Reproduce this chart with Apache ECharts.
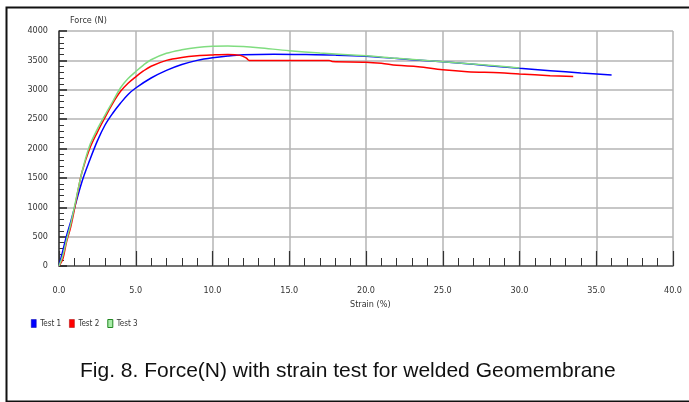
<!DOCTYPE html>
<html>
<head>
<meta charset="utf-8">
<script src="https://cdn.jsdelivr.net/npm/echarts@6/dist/echarts.min.js"></script>
<style>
html,body{margin:0;padding:0;background:#fff;}
#chart{width:689px;height:402px;}
</style>
</head>
<body>
<div id="chart"></div>
<script>
// ---- data ----
var xTickLabels = ['0.0','5.0','10.0','15.0','20.0','25.0','30.0','35.0','40.0'];
var yTickValues = [0,500,1000,1500,2000,2500,3000,3500,4000];

var test1Strain = [0,0.25,0.5,0.75,1.0,1.5,2.0,2.5,3.0,3.5,4.0,4.5,5.0,6.0,7.0,8.0,9.0,10.0,11.0,12.0,14.0,16.0,18.0,20.0,22.0,24.0,26.0,28.0,30.0,32.0,34.0,36.0];
var test1Force  = [0,260,520,740,980,1440,1800,2130,2400,2600,2770,2920,3030,3200,3330,3430,3500,3545,3575,3595,3605,3600,3590,3570,3530,3495,3455,3410,3365,3325,3285,3250];

var test2Strain = [0,0.25,0.5,0.75,1.0,1.25,1.5,2.0,2.5,3.0,3.5,4.0,4.5,5.0,5.5,6.0,7.0,8.0,9.0,10.0,11.0,11.8,12.2,12.4,17.6,17.8,20.0,21.0,22.0,23.4,25.0,26.6,28.7,30.0,32.0,33.5];
var test2Force  = [0,120,420,650,960,1300,1600,2000,2280,2530,2770,2970,3110,3220,3320,3400,3500,3550,3578,3592,3600,3585,3540,3500,3500,3480,3470,3450,3415,3390,3340,3308,3290,3268,3240,3225];

var test3Strain = [0,0.25,0.5,0.75,1.0,1.5,2.0,2.5,3.0,3.5,4.0,4.5,5.0,5.5,6.0,7.0,8.0,9.0,10.0,11.0,12.0,13.0,15.0,17.0,20.0,22.0,25.0,28.0,30.0];
var test3Force  = [0,180,450,700,1000,1600,2050,2330,2570,2800,3030,3190,3310,3420,3510,3620,3680,3720,3740,3745,3735,3715,3665,3625,3578,3535,3478,3415,3372];

function pairs(xs, ys){ return xs.map(function(x,i){ return [x, ys[i]]; }); }

var smallFont = "'Liberation Sans Narrow','DejaVu Sans Condensed','Arial Narrow',sans-serif";

var chart = echarts.init(document.getElementById('chart'), null, {renderer:'canvas'});
chart.setOption({
  animation:false,
  backgroundColor:'#ffffff',
  grid:{left:59, right:16, top:31, bottom:136, containLabel:false},
  xAxis:{
    type:'value', min:0, max:40, interval:5, offset:15,
    axisLine:{show:true, lineStyle:{color:'#555', width:1.5}},
    axisTick:{show:true, inside:true, length:15, lineStyle:{color:'#333', width:1.2}},
    minorTick:{show:true, splitNumber:5, length:8, lineStyle:{color:'#333', width:1}},
    splitLine:{show:true, lineStyle:{color:'#b4b4b4', width:1.5}},
    axisLabel:{fontSize:9, color:'#333', margin:5, fontFamily:smallFont,
      formatter:function(v){ return xTickLabels[Math.round(v/5)]; }}
  },
  yAxis:{
    type:'value', min:0, max:4000, interval:500, offset:8,
    axisLine:{show:true, lineStyle:{color:'#333', width:1.5}},
    axisTick:{show:true, inside:true, length:8, lineStyle:{color:'#222', width:1.5}},
    minorTick:{show:true, splitNumber:5, length:5, lineStyle:{color:'#333', width:1}},
    splitLine:{show:true, lineStyle:{color:'#b4b4b4', width:1.5}},
    axisLabel:{fontSize:9, color:'#333', margin:3, fontFamily:smallFont,
      formatter:function(v){ return yTickValues.indexOf(v) >= 0 ? String(v) : ''; }}
  },
  legend:{
    left:31, top:319, padding:0, itemGap:8, itemWidth:5, itemHeight:8, icon:'rect',
    textStyle:{fontSize:8, color:'#333', fontFamily:smallFont, padding:[0,0,0,-1]},
    data:[
      {name:'Test 1', itemStyle:{color:'#0000ff', borderColor:'#0000aa', borderWidth:0.5}},
      {name:'Test 2', itemStyle:{color:'#ff0000', borderColor:'#aa0000', borderWidth:0.5}},
      {name:'Test 3', itemStyle:{color:'#a8eca8', borderColor:'#228822', borderWidth:1}}
    ]
  },
  series:[
    {name:'Test 1', type:'line', showSymbol:false, smooth:0.35,
     data:pairs(test1Strain, test1Force), lineStyle:{color:'#0000ff', width:1.5}, itemStyle:{color:'#0000ff'}},
    {name:'Test 2', type:'line', showSymbol:false, smooth:0.35,
     data:pairs(test2Strain, test2Force), lineStyle:{color:'#ff0000', width:1.5}, itemStyle:{color:'#ff0000'}},
    {name:'Test 3', type:'line', showSymbol:false, smooth:0.35,
     data:pairs(test3Strain, test3Force), lineStyle:{color:'#80dd80', width:1.5}, itemStyle:{color:'#80dd80'}}
  ],
  graphic:[
    {type:'rect', left:4, top:5, shape:{width:690, height:394}, style:{fill:'none', stroke:'#111', lineWidth:2}, silent:true, z:-1},
    {type:'text', left:70, top:16, style:{text:'Force (N)', font:'9px ' + smallFont, fill:'#333'}},
    {type:'text', left:350, top:300, style:{text:'Strain (%)', font:'9px ' + smallFont, fill:'#333'}},
    {type:'text', left:80, top:361, style:{text:'Fig. 8. Force(N) with strain test for welded Geomembrane', font:'21px "Liberation Sans", Arial, sans-serif', fill:'#111'}}
  ]
});
</script>
</body>
</html>
